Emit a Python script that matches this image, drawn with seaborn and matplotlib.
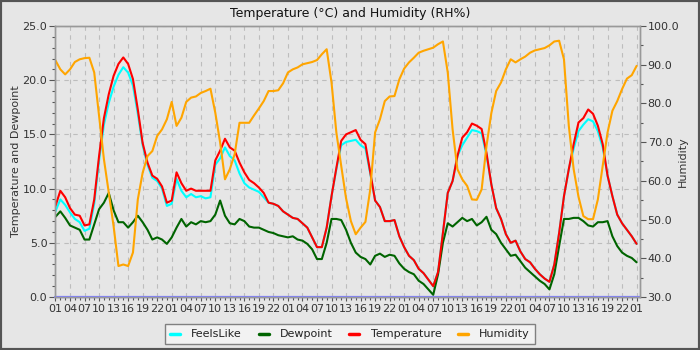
import matplotlib
matplotlib.use('Agg')
import matplotlib.pyplot as plt
import seaborn as sns
import pandas as pd
from matplotlib.ticker import MultipleLocator, FixedLocator
from matplotlib.patches import Rectangle
from matplotlib.lines import Line2D

sns.set_theme(style='white')
plt.rcParams['font.family'] = ['DejaVu Sans']

# ---------------- data (hourly readings, hour 0 = 01:00 of day 1) ----------------
hours = list(range(121))

temperature = [
    8.4, 9.8, 9.2, 8.2, 7.6, 7.5, 6.6, 6.7, 9.0, 13.0, 16.5, 18.7, 20.4, 21.5, 22.1, 21.5,
    20.1, 17.3, 14.2, 12.4, 11.2, 10.9, 10.2, 8.7, 8.9, 11.5, 10.5, 9.8, 10.0, 9.8, 9.8,
    9.8, 9.8, 12.6, 13.5, 14.6, 13.8, 13.5, 12.4, 11.5, 10.8, 10.5, 10.1, 9.6, 8.7, 8.6,
    8.4, 7.9, 7.6, 7.3, 7.2, 6.8, 6.4, 5.5, 4.6, 4.6, 6.4, 9.3, 11.9, 14.4, 15.0,
    15.2, 15.4, 14.5, 14.1, 11.5, 8.9, 8.3, 7.0, 7.0, 7.1, 5.6, 4.6, 3.8, 3.4, 2.6,
    2.2, 1.6, 1.0, 2.3, 5.9, 9.6, 10.7, 13.0, 14.7, 15.2, 16.0, 15.8, 15.5, 13.3, 10.4,
    8.2, 7.2, 5.8, 5.0, 5.2, 4.2, 3.5, 3.2, 2.6, 2.1, 1.7, 1.4, 3.0, 5.9, 9.3,
    11.8, 14.1, 16.1, 16.5, 17.3, 16.9, 15.8, 14.1, 11.2, 9.3, 7.6, 6.8, 6.2, 5.6, 4.9,
]

feels_like = [
    7.9, 9.0, 8.5, 7.8, 7.2, 6.9, 6.1, 6.3, 8.6, 12.6, 15.9, 17.9, 19.4, 20.5, 21.2, 20.7,
    19.5, 16.9, 14.0, 12.2, 11.0, 10.7, 10.0, 8.4, 8.6, 10.9, 9.8, 9.2, 9.5, 9.2, 9.3,
    9.1, 9.2, 12.2, 12.8, 13.8, 13.0, 12.6, 11.4, 10.5, 10.1, 9.9, 9.7, 9.2, 8.7, 8.6,
    8.4, 7.9, 7.6, 7.3, 7.2, 6.8, 6.4, 5.5, 4.6, 4.6, 6.4, 9.3, 11.8, 14.0, 14.3,
    14.4, 14.5, 14.0, 13.7, 11.4, 8.9, 8.3, 7.0, 7.0, 7.1, 5.6, 4.6, 3.8, 3.4, 2.6,
    2.2, 1.6, 1.0, 2.3, 5.9, 9.6, 10.7, 13.0, 14.0, 14.7, 15.4, 15.3, 15.1, 13.1, 10.4,
    8.2, 7.2, 5.8, 5.0, 5.2, 4.2, 3.5, 3.2, 2.6, 2.1, 1.7, 1.4, 3.0, 5.9, 9.3,
    11.8, 13.7, 15.3, 15.9, 16.4, 16.2, 15.3, 13.8, 11.2, 9.3, 7.6, 6.8, 6.2, 5.6, 4.9,
]

dewpoint = [
    7.4, 7.9, 7.3, 6.6, 6.4, 6.2, 5.3, 5.3, 6.7, 8.1, 8.7, 9.6, 8.0, 6.9, 6.9, 6.4,
    6.9, 7.5, 6.9, 6.2, 5.3, 5.5, 5.3, 4.9, 5.5, 6.4, 7.2, 6.5, 6.9, 6.7, 7.0,
    6.9, 7.0, 7.6, 8.9, 7.5, 6.8, 6.7, 7.2, 7.0, 6.5, 6.4, 6.4, 6.2, 6.0, 5.9,
    5.7, 5.6, 5.5, 5.6, 5.3, 5.2, 4.9, 4.4, 3.5, 3.5, 5.0, 7.2, 7.2, 7.1, 6.2,
    5.0, 4.1, 3.7, 3.5, 3.0, 3.8, 4.0, 3.7, 3.9, 3.8, 3.1, 2.6, 2.3, 2.1, 1.5,
    1.2, 0.7, 0.2, 2.1, 5.0, 6.8, 6.5, 6.9, 7.3, 7.0, 7.2, 6.6, 6.9, 7.4, 6.2,
    5.8, 5.0, 4.4, 3.8, 3.9, 3.3, 2.7, 2.3, 1.9, 1.5, 1.2, 0.7, 2.1, 4.7, 7.2,
    7.2, 7.3, 7.3, 7.0, 6.6, 6.5, 6.9, 6.9, 7.0, 5.6, 4.7, 4.1, 3.8, 3.6, 3.2,
]

humidity = [
    91.1, 88.8, 87.5, 88.8, 90.7, 91.4, 91.7, 91.8, 88.0, 76.8, 65.6, 57.0, 48.3, 38.0, 38.4, 38.0,
    41.5, 55.2, 62.1, 66.4, 67.7, 71.6, 73.3, 75.9, 80.4, 74.2, 76.3, 80.4, 81.5, 81.8, 82.7,
    83.2, 83.8, 77.6, 69.9, 60.4, 63.0, 66.9, 75.0, 75.0, 75.0, 76.9, 78.7, 80.6, 83.2, 83.2,
    83.4, 85.2, 88.0, 88.8, 89.3, 90.1, 90.4, 90.7, 91.2, 92.7, 94.0, 85.4, 72.5, 63.9, 55.5,
    49.6, 46.2, 47.9, 49.4, 57.8, 72.5, 75.9, 80.6, 81.8, 81.9, 86.2, 89.0, 90.6, 91.8, 93.1,
    93.6, 94.0, 94.4, 95.3, 96.0, 88.0, 73.3, 63.0, 60.4, 58.7, 55.2, 55.1, 57.8, 69.0, 77.5,
    83.2, 85.4, 88.8, 91.4, 90.6, 91.4, 92.1, 93.1, 93.7, 94.0, 94.3, 95.0, 96.0, 96.2, 91.4,
    74.2, 63.0, 55.9, 50.9, 50.1, 50.1, 55.2, 63.9, 72.5, 78.1, 80.6, 83.7, 86.4, 87.3, 89.7,
]

x_tick_hours = list(range(0, 121, 3))
x_tick_labels = ['01', '04', '07', '10', '13', '16', '19', '22'] * 5 + ['01']

series_names = ['FeelsLike', 'Dewpoint', 'Temperature', 'Humidity']
series_colors = ['#00ffff', '#006400', '#ff0000', '#ffa500']

title_text = 'Temperature (°C) and Humidity (RH%)'
left_label = 'Temperature and Dewpoint'
right_label = 'Humidity'

df = pd.DataFrame({'hour': hours, 'FeelsLike': feels_like, 'Dewpoint': dewpoint,
                   'Temperature': temperature, 'Humidity': humidity})

# ---------------- figure ----------------
BG = '#e6e6e6'
TXT = '#333333'
fig = plt.figure(figsize=(7, 3.5), dpi=100, facecolor=BG)
ax = fig.add_axes([55 / 700, 53 / 350, 585 / 700, 271 / 350])
ax.set_facecolor(BG)

for name, col in zip(series_names[:3], series_colors[:3]):
    sns.lineplot(data=df, x='hour', y=name, color=col, linewidth=1.5, ax=ax,
                 legend=False)

ax2 = ax.twinx()
sns.lineplot(data=df, x='hour', y='Humidity', color=series_colors[3], linewidth=1.5,
             ax=ax2, legend=False)

ax.axhline(0, color='#8080ff', linewidth=1.6, zorder=5, clip_on=False)

ax.set_xlim(-0.1, 120.7)
ax.set_ylim(0, 25)
ax2.set_ylim(30, 100)

ax.xaxis.set_major_locator(FixedLocator(x_tick_hours))
ax.set_xticklabels(x_tick_labels)
ax.xaxis.set_minor_locator(MultipleLocator(1))
ax.yaxis.set_major_locator(MultipleLocator(5))
ax.yaxis.set_minor_locator(MultipleLocator(1))
ax.yaxis.set_major_formatter(matplotlib.ticker.FormatStrFormatter('%.1f'))
ax2.yaxis.set_major_locator(MultipleLocator(10))
ax2.yaxis.set_minor_locator(MultipleLocator(5))
ax2.yaxis.set_major_formatter(matplotlib.ticker.FormatStrFormatter('%.1f'))

ax.tick_params(axis='x', which='major', direction='out', length=3, width=0.8,
               color='#555555', labelsize=8, labelcolor=TXT, pad=2, bottom=True)
ax.tick_params(axis='x', which='minor', direction='out', length=2, width=0.8,
               color='#555555', bottom=True)
ax.tick_params(axis='y', which='major', direction='out', length=4, width=0.8,
               color='#555555', labelsize=8, labelcolor=TXT, pad=1.5, left=True)
ax.tick_params(axis='y', which='minor', direction='out', length=2, width=0.8,
               color='#555555', left=True)
ax2.tick_params(axis='y', which='major', direction='out', length=4, width=0.8,
                color='#555555', labelsize=8, labelcolor=TXT, pad=1.5, right=True)
ax2.tick_params(axis='y', which='minor', direction='out', length=2, width=0.8,
                color='#555555', right=True)

ax.grid(True, which='major', axis='both', color='#bdbdbd', linestyle=(0, (4, 4)),
        linewidth=0.8)
ax.set_axisbelow(True)
ax2.grid(False)

for a in (ax, ax2):
    for s in a.spines.values():
        s.set_color('#999999')
        s.set_linewidth(1.0)

ax.set_xlabel('')
ax.set_ylabel(left_label, fontsize=8, color=TXT, labelpad=1)
ax2.set_ylabel(right_label, fontsize=8, color=TXT, labelpad=-1)

fig.text(0.5, 1 - 13 / 350, title_text, ha='center', va='center', fontsize=9, color='#111111')

handles = [Line2D([0], [0], color=c, linewidth=2.5) for c in series_colors]
leg = fig.legend(handles, series_names, loc='lower center', bbox_to_anchor=(0.5, 0.0),
                 ncol=4, fontsize=8, frameon=True, fancybox=False, framealpha=1,
                 edgecolor='#808080', facecolor='#f2f2f2', handlelength=0.9,
                 handletextpad=1.0, columnspacing=1.5, borderpad=0.45)
for t in leg.get_texts():
    t.set_color('#222222')
leg.get_frame().set_linewidth(1.0)

fig.patches.append(Rectangle((0, 0), 1, 1, transform=fig.transFigure, fill=False,
                             edgecolor='#555555', linewidth=3, zorder=100))

fig.savefig('out.png', dpi=100, facecolor=BG)
